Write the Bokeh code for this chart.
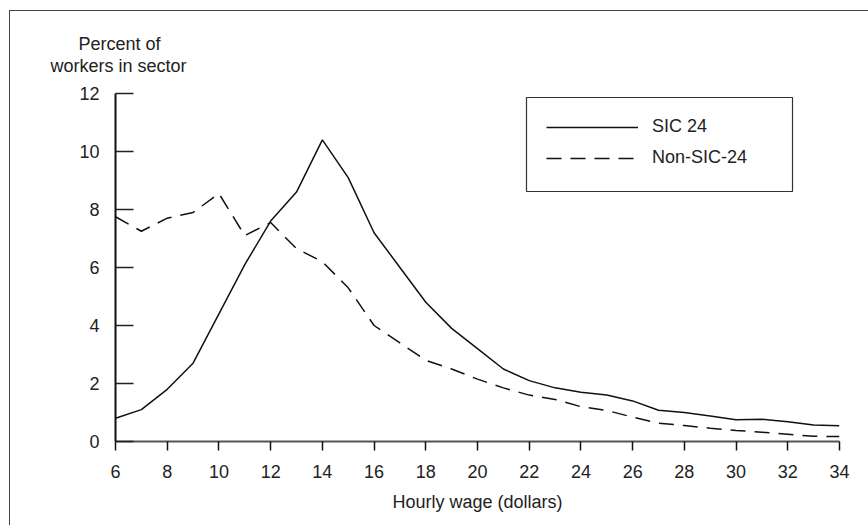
from bokeh.plotting import figure
from bokeh.models import (Range1d, FixedTicker, Title, BoxAnnotation, Legend, LegendItem,
                          InlineStyleSheet)
from bokeh.embed import file_html
from bokeh.resources import INLINE

# ---- data ----
wage = [6, 7, 8, 9, 10, 11, 12, 13, 14, 15, 16, 17, 18, 19, 20,
        21, 22, 23, 24, 25, 26, 27, 28, 29, 30, 31, 32, 33, 34]
sic24 = [0.8, 1.1, 1.8, 2.7, 4.4, 6.1, 7.6, 8.6, 10.4, 9.1, 7.2, 6.0, 4.8, 3.9, 3.2,
         2.5, 2.1, 1.85, 1.7, 1.6, 1.4, 1.08, 1.0, 0.88, 0.75, 0.77, 0.68, 0.57, 0.54]
non_sic24 = [7.75, 7.25, 7.7, 7.9, 8.55, 7.1, 7.55, 6.65, 6.2, 5.3, 4.0, 3.4, 2.8, 2.5, 2.15,
             1.85, 1.6, 1.45, 1.2, 1.07, 0.84, 0.63, 0.55, 0.46, 0.38, 0.32, 0.25, 0.18, 0.17]
x_ticks = [6, 8, 10, 12, 14, 16, 18, 20, 22, 24, 26, 28, 30, 32, 34]
y_ticks = [0, 2, 4, 6, 8, 10, 12]
series_names = ["SIC 24", "Non-SIC-24"]
x_title = "Hourly wage (dollars)"
y_title_lines = ["Percent of", "workers in sector"]

FONT = "Liberation Sans"
FS = "18px"
TXT = "#222222"

frame_css = InlineStyleSheet(css="""
:host { position: relative; }
:host::after {
  content: ""; position: absolute; left: 9px; top: 10px; right: 0; bottom: 0;
  border-left: 1.5px solid #444444; border-top: 1.5px solid #444444;
  pointer-events: none; z-index: 10;
}
""")

p = figure(width=868, height=525, output_backend="svg", toolbar_location=None,
           x_range=Range1d(6, 34), y_range=Range1d(0, 12), title=None,
           min_border_left=115, min_border_right=29, min_border_top=93, min_border_bottom=84,
           stylesheets=[frame_css])
p.outline_line_color = None
p.xgrid.visible = False
p.ygrid.visible = False
p.background_fill_color = "white"
p.border_fill_color = "white"

r1 = p.line(wage, sic24, line_color="#111111", line_width=1.5)
r2 = p.line(wage, non_sic24, line_color="#111111", line_width=1.5, line_dash="15 9")

# x axis
xa = p.xaxis[0]
xa.ticker = FixedTicker(ticks=x_ticks)
xa.minor_tick_line_color = None
xa.major_tick_in = 0
xa.major_tick_out = 9
xa.major_tick_line_width = 1.5
xa.major_tick_line_color = "#111111"
xa.axis_line_color = "#555555"
xa.axis_line_width = 2
xa.major_label_standoff = 14
xa.major_label_text_font = FONT
xa.major_label_text_font_size = FS
xa.major_label_text_color = TXT
xa.axis_label = x_title
xa.axis_label_text_font = FONT
xa.axis_label_text_font_size = FS
xa.axis_label_text_font_style = "normal"
xa.axis_label_text_color = TXT
xa.axis_label_standoff = 11

# y axis
ya = p.yaxis[0]
ya.ticker = FixedTicker(ticks=y_ticks)
ya.minor_tick_line_color = None
ya.major_tick_in = 18
ya.major_tick_out = 0
ya.major_tick_line_width = 1.5
ya.major_tick_line_color = "#222222"
ya.axis_line_color = "#111111"
ya.axis_line_width = 2
ya.major_label_standoff = 16
ya.major_label_text_font = FONT
ya.major_label_text_font_size = FS
ya.major_label_text_color = TXT

# y title (horizontal, above the axis) as stacked titles
p.add_layout(Title(text=y_title_lines[1], align="left", offset=-65, standoff=36,
                   text_font=FONT, text_font_size=FS, text_font_style="normal",
                   text_color=TXT), "above")
p.add_layout(Title(text=y_title_lines[0], align="left", offset=-37, standoff=-37,
                   text_font=FONT, text_font_size=FS, text_font_style="normal",
                   text_color=TXT), "above")

# legend box
p.add_layout(BoxAnnotation(left=526, right=792, top=97, bottom=191,
                           left_units="canvas", right_units="canvas",
                           top_units="canvas", bottom_units="canvas",
                           fill_color=None, fill_alpha=0, line_color="#333333",
                           line_alpha=1.0, line_width=1.2))

legend = Legend(items=[LegendItem(label=series_names[0], renderers=[r1]),
                       LegendItem(label=series_names[1], renderers=[r2])],
                location=(431, 273), orientation="vertical",
                border_line_color=None, background_fill_color=None, background_fill_alpha=0,
                padding=0, margin=0, spacing=10, glyph_width=92, glyph_height=20,
                label_height=20, label_standoff=14,
                label_text_font=FONT, label_text_font_size=FS, label_text_color=TXT)
p.add_layout(legend, "center")

open("out.html", "w").write(file_html(p, INLINE))
